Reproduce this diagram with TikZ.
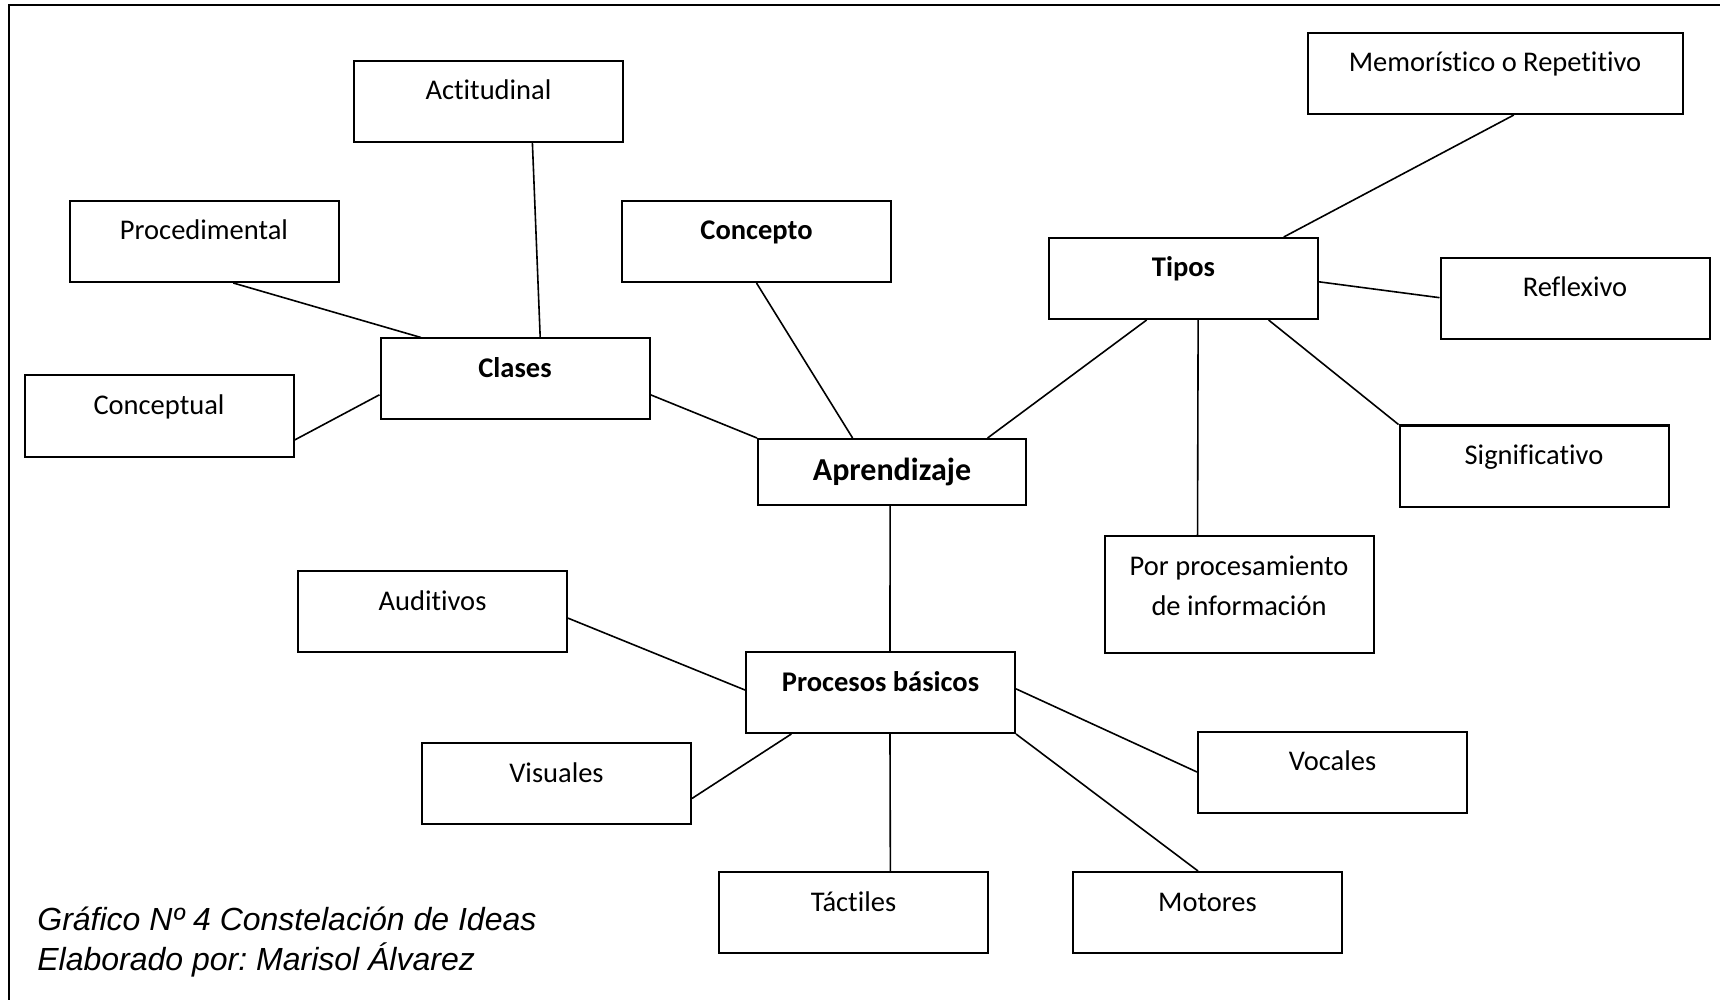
\documentclass[tikz,border=0pt]{standalone}
\usepackage{fontspec}
\setmainfont{Carlito}[Ligatures=NoCommon]
\newfontfamily\capfont{Liberation Sans}
\usetikzlibrary{calc}
\begin{document}
\frenchspacing
\begin{tikzpicture}[x=0.5pt,y=-0.5pt,
  box/.style={draw, line width=1pt, inner sep=0pt, minimum width=134.5pt,
    text height=19.5pt, text depth=21pt, font=\fontsize{14.25}{17}\selectfont},
  bbox/.style={box, font=\fontsize{14.25}{17}\selectfont\bfseries},
  conn/.style={line width=0.8pt},
  frameline/.style={line width=1pt},
  captext/.style={anchor=base west, inner sep=0pt, font=\capfont\itshape\fontsize{16}{20}\selectfont}]
\useasboundingbox (0,0) rectangle (1720,1000);
\draw[frameline] (9,5) rectangle (1730,1010);

\node[box] (act) at (488.5,101.5) {Actitudinal};
\node[box] (proc) at (204,241.5) {Procedimental};
\node[bbox] (concepto) at (756.5,241.5) {Concepto};
\node[bbox] (clases) at (515,379) {Clases};
\node[box] (conceptual) at (159,416) {Conceptual};
\node[draw, line width=1pt, inner sep=0pt, minimum width=134pt, minimum height=33pt,
  font=\fontsize{16}{19}\selectfont\bfseries] (aprend) at (892,472) {Aprendizaje};
\node[box, minimum width=187.5pt] (memo) at (1495,73.5) {Memorístico o Repetitivo};
\node[bbox] (tipos) at (1183.5,278.5) {Tipos};
\node[box] (refl) at (1575,298.5) {Reflexivo};
\node[box] (signif) at (1534,466) {Significativo};
\node[box, text depth=39pt, font=\fontsize{14.25}{20}\selectfont] (porproc) at (1239,594.5)
  {\begin{tabular}[t]{@{}c@{}}Por procesamiento\\de información\end{tabular}};
\node[box] (aud) at (432.5,611.5) {Auditivos};
\node[bbox] (procesos) at (880.5,692.5) {Procesos básicos};
\node[box] (vis) at (556.5,783.5) {Visuales};
\node[box] (voc) at (1332.5,772) {Vocales};
\node[box] (tact) at (853.5,912.5) {Táctiles};
\node[box] (mot) at (1207.5,912.5) {Motores};

\node[captext] (cap1) at (37,930) {Gráfico Nº 4 Constelación de Ideas};
\node[captext] (cap2) at (37,970) {Elaborado por: Marisol Álvarez};

\draw[conn] ($(act.south west)!0.662!(act.south east)$) -- ($(clases.north west)!0.593!(clases.north east)$);
\draw[conn] ($(proc.south west)!0.608!(proc.south east)$) -- ($(clases.north west)!0.153!(clases.north east)$);
\draw[conn] ($(conceptual.north east)!0.79!(conceptual.south east)$) -- ($(clases.north west)!0.69!(clases.south west)$);
\draw[conn] ($(clases.north east)!0.69!(clases.south east)$) -- (aprend.north west);
\draw[conn] (concepto.south) -- ($(aprend.north west)!0.354!(aprend.north east)$);
\draw[conn] ($(memo.south west)!0.55!(memo.south east)$) -- ($(tipos.north west)!0.87!(tipos.north east)$);
\draw[conn] ($(tipos.north east)!0.54!(tipos.south east)$) -- ($(refl.north west)!0.49!(refl.south west)$);
\draw[conn] ($(tipos.south west)!0.364!(tipos.south east)$) -- ($(aprend.north west)!0.854!(aprend.north east)$);
\draw[conn] ($(tipos.south west)!0.554!(tipos.south east)$) -- ($(porproc.north west)!0.347!(porproc.north east)$);
\draw[conn] ($(tipos.south west)!0.814!(tipos.south east)$) -- (signif.north west);
\draw[conn] ($(aprend.south west)!0.493!(aprend.south east)$) -- ($(procesos.north west)!0.535!(procesos.north east)$);
\draw[conn] ($(aud.north east)!0.58!(aud.south east)$) -- ($(procesos.north west)!0.47!(procesos.south west)$);
\draw[conn] ($(vis.north east)!0.68!(vis.south east)$) -- ($(procesos.south west)!0.171!(procesos.south east)$);
\draw[conn] ($(procesos.north east)!0.456!(procesos.south east)$) -- (voc.west);
\draw[conn] ($(procesos.south west)!0.535!(procesos.south east)$) -- ($(tact.north west)!0.636!(tact.north east)$);
\draw[conn] (procesos.south east) -- ($(mot.north west)!0.465!(mot.north east)$);
\end{tikzpicture}
\end{document}
